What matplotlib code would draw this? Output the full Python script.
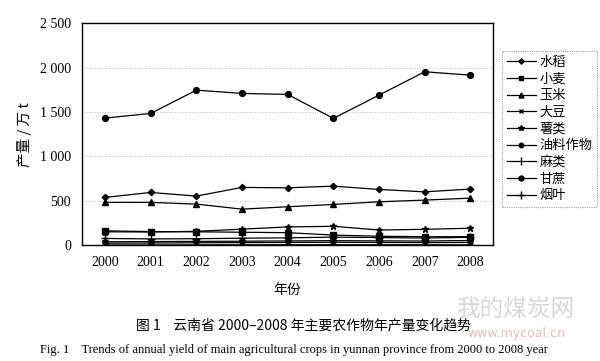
import matplotlib
matplotlib.use("Agg")
import matplotlib.pyplot as plt

years = [2000, 2001, 2002, 2003, 2004, 2005, 2006, 2007, 2008]
crops = ["水稻", "小麦", "玉米", "大豆", "薯类", "油料作物", "麻类", "甘蔗", "烟叶"]

rice = [537, 593, 552, 650, 645, 664, 627, 600, 631]
wheat = [161, 152, 150, 145, 140, 113, 100, 95, 94]
corn = [481, 481, 462, 405, 432, 458, 488, 507, 529]
soybean = [22, 24, 26, 28, 30, 32, 30, 28, 30]
tuber = [150, 148, 155, 180, 205, 212, 170, 178, 190]
oil = [38, 40, 42, 44, 47, 50, 48, 46, 52]
hemp = [2, 2, 3, 3, 4, 5, 4, 3, 3]
sugarcane = [1430, 1483, 1745, 1708, 1697, 1427, 1689, 1952, 1914]
tobacco = [75, 70, 72, 78, 82, 90, 85, 80, 88]

series = [rice, wheat, corn, soybean, tuber, oil, hemp, sugarcane, tobacco]
markers = ["D", "s", "^", "x", "*", "o", "|", "o", "+"]
msizes = [3.2, 3.8, 4.2, 4.2, 4.8, 3.8, 6, 4.2, 6]

yticks = [0, 500, 1000, 1500, 2000, 2500]
ytick_labels = ["0", "500", "1 000", "1 500", "2 000", "2 500"]

cjk = ["Noto Sans CJK SC", "DejaVu Sans"]
serif = ["Liberation Serif", "Noto Sans CJK SC"]

fig = plt.figure(figsize=(6.0, 3.61), dpi=100)
ax = fig.add_axes([0.137, 0.321, 0.685, 0.615])

for name, vals, m, ms in zip(crops, series, markers, msizes):
    ax.plot(years, vals, color="black", lw=0.9, marker=m, markersize=ms,
            markeredgewidth=1.0, label=name)

ax.set_xlim(1999.5, 2008.5)
ax.set_ylim(0, 2500)
ax.set_xticks(years)
ax.set_xticklabels([str(y) for y in years], family=serif, fontsize=10)
ax.set_yticks(yticks)
ax.set_yticklabels(ytick_labels, family=serif, fontsize=10)
ax.tick_params(length=0, pad=8)
ax.grid(axis="y", linestyle=(0, (1, 2)), color="#aaaaaa", lw=0.6)
for s in ax.spines.values():
    s.set_linewidth(1.0)
    s.set_color("black")

ax.set_ylabel("产量 / 万 t", family=cjk, fontsize=10.5, labelpad=6)
ax.set_xlabel("年份", family=cjk, fontsize=10, labelpad=10)

leg = fig.legend(loc="upper left", bbox_to_anchor=(0.837, 0.858),
                 prop={"family": cjk, "size": 9.5}, frameon=True, fancybox=False,
                 handlelength=2.2, handletextpad=0.3, labelspacing=0.28,
                 borderpad=0.35, borderaxespad=0, markerscale=0.85)
leg.get_frame().set_edgecolor("#888888")
leg.get_frame().set_linestyle((0, (1, 1)))
leg.get_frame().set_linewidth(0.8)

fig.text(0.505, 0.1, "图 1    云南省 2000–2008 年主要农作物年产量变化趋势",
         ha="center", va="center", family=cjk, fontsize=10)
fig.text(0.49, 0.03, "Fig. 1    Trends of annual yield of main agricultural crops in yunnan province from 2000 to 2008 year",
         ha="center", va="center", family=serif, fontsize=9)

fig.text(0.86, 0.14, "我的煤炭网", ha="center", va="center", family=cjk,
         fontsize=17, color="#c8c8c8", alpha=0.7)
fig.text(0.86, 0.075, "www.mycoal.cn", ha="center", va="center", family=["DejaVu Sans"],
         fontsize=9, color="#e0a0a0", alpha=0.7)

fig.savefig("out.png", dpi=100)
